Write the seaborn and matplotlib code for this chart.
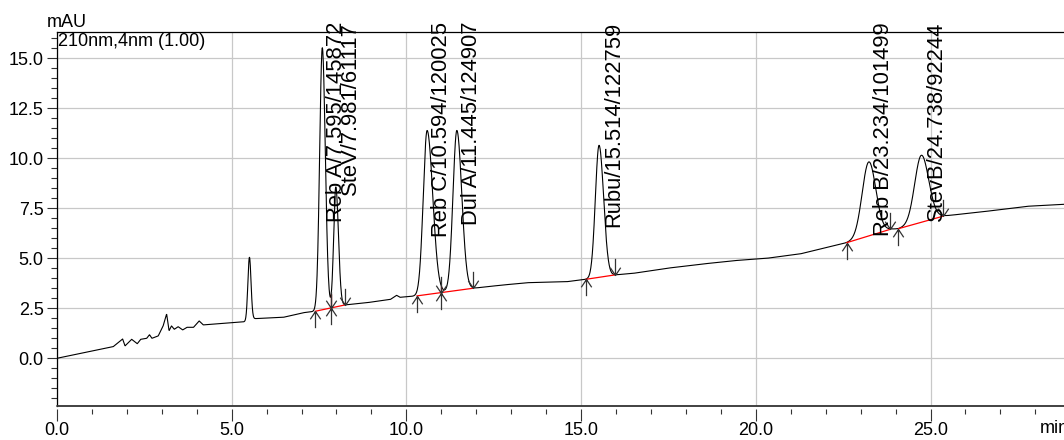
import numpy as np
import pandas as pd
import matplotlib
matplotlib.use("Agg")
import matplotlib.pyplot as plt
import seaborn as sns
from matplotlib.path import Path
from matplotlib.ticker import MultipleLocator, FormatStrFormatter
from matplotlib import transforms
from matplotlib import font_manager as fm

# ---------------- data ----------------
# baseline / small-feature trace knots (time in min, signal in mAU)
baseline_t = [0.00, 1.61, 1.88, 1.95, 2.14, 2.30, 2.40, 2.57, 2.65, 2.72, 2.90,
              3.04, 3.14, 3.21, 3.28, 3.36, 3.47, 3.60, 3.72, 3.91, 4.07, 4.19,
              5.40, 5.62, 6.48, 7.05, 7.39, 8.25, 8.87, 9.55, 9.72, 9.82, 10.30,
              11.90, 12.68, 13.45, 14.59, 15.14, 15.97, 16.50, 17.45, 18.40,
              19.36, 20.31, 21.27, 22.60, 23.85, 24.08, 25.37, 25.56, 26.51,
              27.76, 28.82]
baseline_v = [0.00, 0.58, 0.97, 0.62, 0.95, 0.73, 0.95, 1.00, 1.18, 1.00, 1.12,
              1.62, 2.22, 1.38, 1.62, 1.45, 1.58, 1.42, 1.55, 1.55, 1.87, 1.67,
              1.83, 1.98, 2.05, 2.28, 2.35, 2.67, 2.78, 2.95, 3.15, 3.05, 3.12,
              3.50, 3.65, 3.78, 3.83, 3.95, 4.17, 4.25, 4.50, 4.70,
              4.88, 5.00, 5.22, 5.78, 6.45, 6.48, 7.11, 7.15, 7.33,
              7.60, 7.70]

# identified peaks
peak_names = ["Reb A", "SteV", "Reb C", "Dul A", "Rubu", "Reb B", "StevB"]
peak_rt = [7.595, 7.981, 10.594, 11.445, 15.514, 23.234, 24.738]
peak_area = [145872, 61117, 120025, 124907, 122759, 101499, 92244]
peak_height = [13.1, 6.0, 8.2, 8.0, 6.6, 3.7, 3.35]
peak_sig_l = [0.075, 0.060, 0.110, 0.110, 0.105, 0.190, 0.190]
peak_sig_r = [0.085, 0.075, 0.160, 0.140, 0.130, 0.200, 0.210]

# unlabelled peak
extra_rt = [5.51]
extra_height = [3.15]
extra_sigma = [0.045]

# integration baselines (start, end) and shared drop points
seg_start = [7.39, 10.30, 15.14, 22.60, 24.08]
seg_end = [8.25, 11.90, 15.97, 23.85, 25.37]
drop_t = [7.85, 11.00]

t_max = 28.82
y_min, y_max = -2.385, 16.30

# ---------------- build signal ----------------
t = np.linspace(0, t_max, 4000)
sig = np.interp(t, baseline_t, baseline_v)
for rt, h, sl, sr in zip(peak_rt, peak_height, peak_sig_l, peak_sig_r):
    s = np.where(t < rt, sl, sr)
    sig = sig + h * np.exp(-0.5 * ((t - rt) / s) ** 2)
for rt, h, s in zip(extra_rt, extra_height, extra_sigma):
    sig = sig + h * np.exp(-0.5 * ((t - rt) / s) ** 2)
df = pd.DataFrame({"time": t, "mAU": sig})

def base_at(x):
    return np.interp(x, baseline_t, baseline_v)

def signal_at(x):
    return np.interp(x, t, sig)

# ---------------- style ----------------
sns.set_theme(style="white")
axis_family = ["Liberation Sans", "DejaVu Sans"]
axis_fs = 13.0
plt.rcParams["font.family"] = axis_family

W, H = 1064, 440
fig = plt.figure(figsize=(W / 100, H / 100), dpi=100)
fig.patch.set_facecolor("white")
ax = fig.add_axes([56.9 / W, 34 / H, 1 - 56.9 / W, 373.7 / H])
ax.set_facecolor("white")

sns.lineplot(data=df, x="time", y="mAU", ax=ax, color="black", lw=0.8,
             estimator=None, sort=False, zorder=3)

ax.set_xlim(0, t_max)
ax.set_ylim(y_min, y_max)
ax.set_xlabel("")
ax.set_ylabel("")

ax.xaxis.set_major_locator(MultipleLocator(5))
ax.xaxis.set_minor_locator(MultipleLocator(1))
ax.yaxis.set_major_locator(MultipleLocator(2.5))
ax.yaxis.set_minor_locator(MultipleLocator(0.5))
ax.xaxis.set_major_formatter(FormatStrFormatter("%.1f"))
ax.yaxis.set_major_formatter(FormatStrFormatter("%.1f"))
ax.grid(True, which="major", color="#c8c8c8", lw=0.9, zorder=0)
ax.set_axisbelow(True)

ax.tick_params(axis="y", which="major", direction="out", length=7.2, width=0.8,
               color="#333333", pad=2.4, labelsize=axis_fs, labelcolor="black", left=True)
ax.tick_params(axis="y", which="minor", direction="out", length=4.0, width=0.8,
               color="#333333", left=True)
ax.tick_params(axis="x", which="major", direction="out", length=8.5, width=0.8,
               color="#333333", pad=0.5, labelsize=axis_fs, labelcolor="black", bottom=True)
ax.tick_params(axis="x", which="minor", direction="out", length=3.5, width=0.8,
               color="#333333", bottom=True)

for side in ["left", "top"]:
    ax.spines[side].set_visible(True)
    ax.spines[side].set_color("black")
    ax.spines[side].set_linewidth(0.9)
ax.spines["right"].set_visible(False)
ax.spines["bottom"].set_position(("outward", 2.2))
ax.spines["bottom"].set_visible(False)
ax.axhline(y_min, color="#333333", lw=1.3, clip_on=False, zorder=5)

# integration baselines in red
for a, b in zip(seg_start, seg_end):
    ax.plot([a, b], [base_at(a), base_at(b)], color="#ff0000", lw=0.9, zorder=4)
# drop lines
for d in drop_t:
    ax.plot([d, d], [base_at(d), signal_at(d)], color="#a00000", lw=1.0, zorder=4)

# arrow markers
up_arrow = Path([(0, -16), (0, 0), (-5, -7.5), (0, 0), (5, -7.5)],
                [Path.MOVETO, Path.LINETO, Path.MOVETO, Path.LINETO, Path.LINETO])
down_arrow = Path([(0, 16), (0, 0), (-5, 7.5), (0, 0), (5, 7.5)],
                  [Path.MOVETO, Path.LINETO, Path.MOVETO, Path.LINETO, Path.LINETO])
starts = list(seg_start) + list(drop_t)
ends = list(seg_end) + list(drop_t)
ax.plot(starts, [base_at(s) for s in starts], ls="none", marker=up_arrow, ms=24,
        mec="#333333", mfc="none", mew=0.9, zorder=6, clip_on=False)
ax.plot(ends, [base_at(e) for e in ends], ls="none", marker=down_arrow, ms=24,
        mec="#333333", mfc="none", mew=0.9, zorder=6, clip_on=False)

# peak labels
blend = transforms.blended_transform_factory(ax.transData, ax.transAxes)
for name, rt, area in zip(peak_names, peak_rt, peak_area):
    ax.text(rt + 0.42, 1.0276, f"{name}/{rt:.3f}/{area}", transform=blend,
            rotation=90, ha="center", va="top", fontsize=15.8,
            family=["Liberation Sans", "DejaVu Sans"], color="black",
            clip_on=False, zorder=7)

# annotations
ax.text(0.0015, 0.997, "210nm,4nm (1.00)", transform=ax.transAxes, ha="left",
        va="top", fontsize=axis_fs, color="black", zorder=7)
fig.text(46.7 / W, 1 - 14 / H, "mAU", ha="left", va="top", fontsize=axis_fs, color="black")
fig.text(1040 / W, 1 - 420 / H, "min", ha="left", va="top", fontsize=axis_fs, color="black")

fig.savefig("out.png", dpi=100, facecolor="white")
